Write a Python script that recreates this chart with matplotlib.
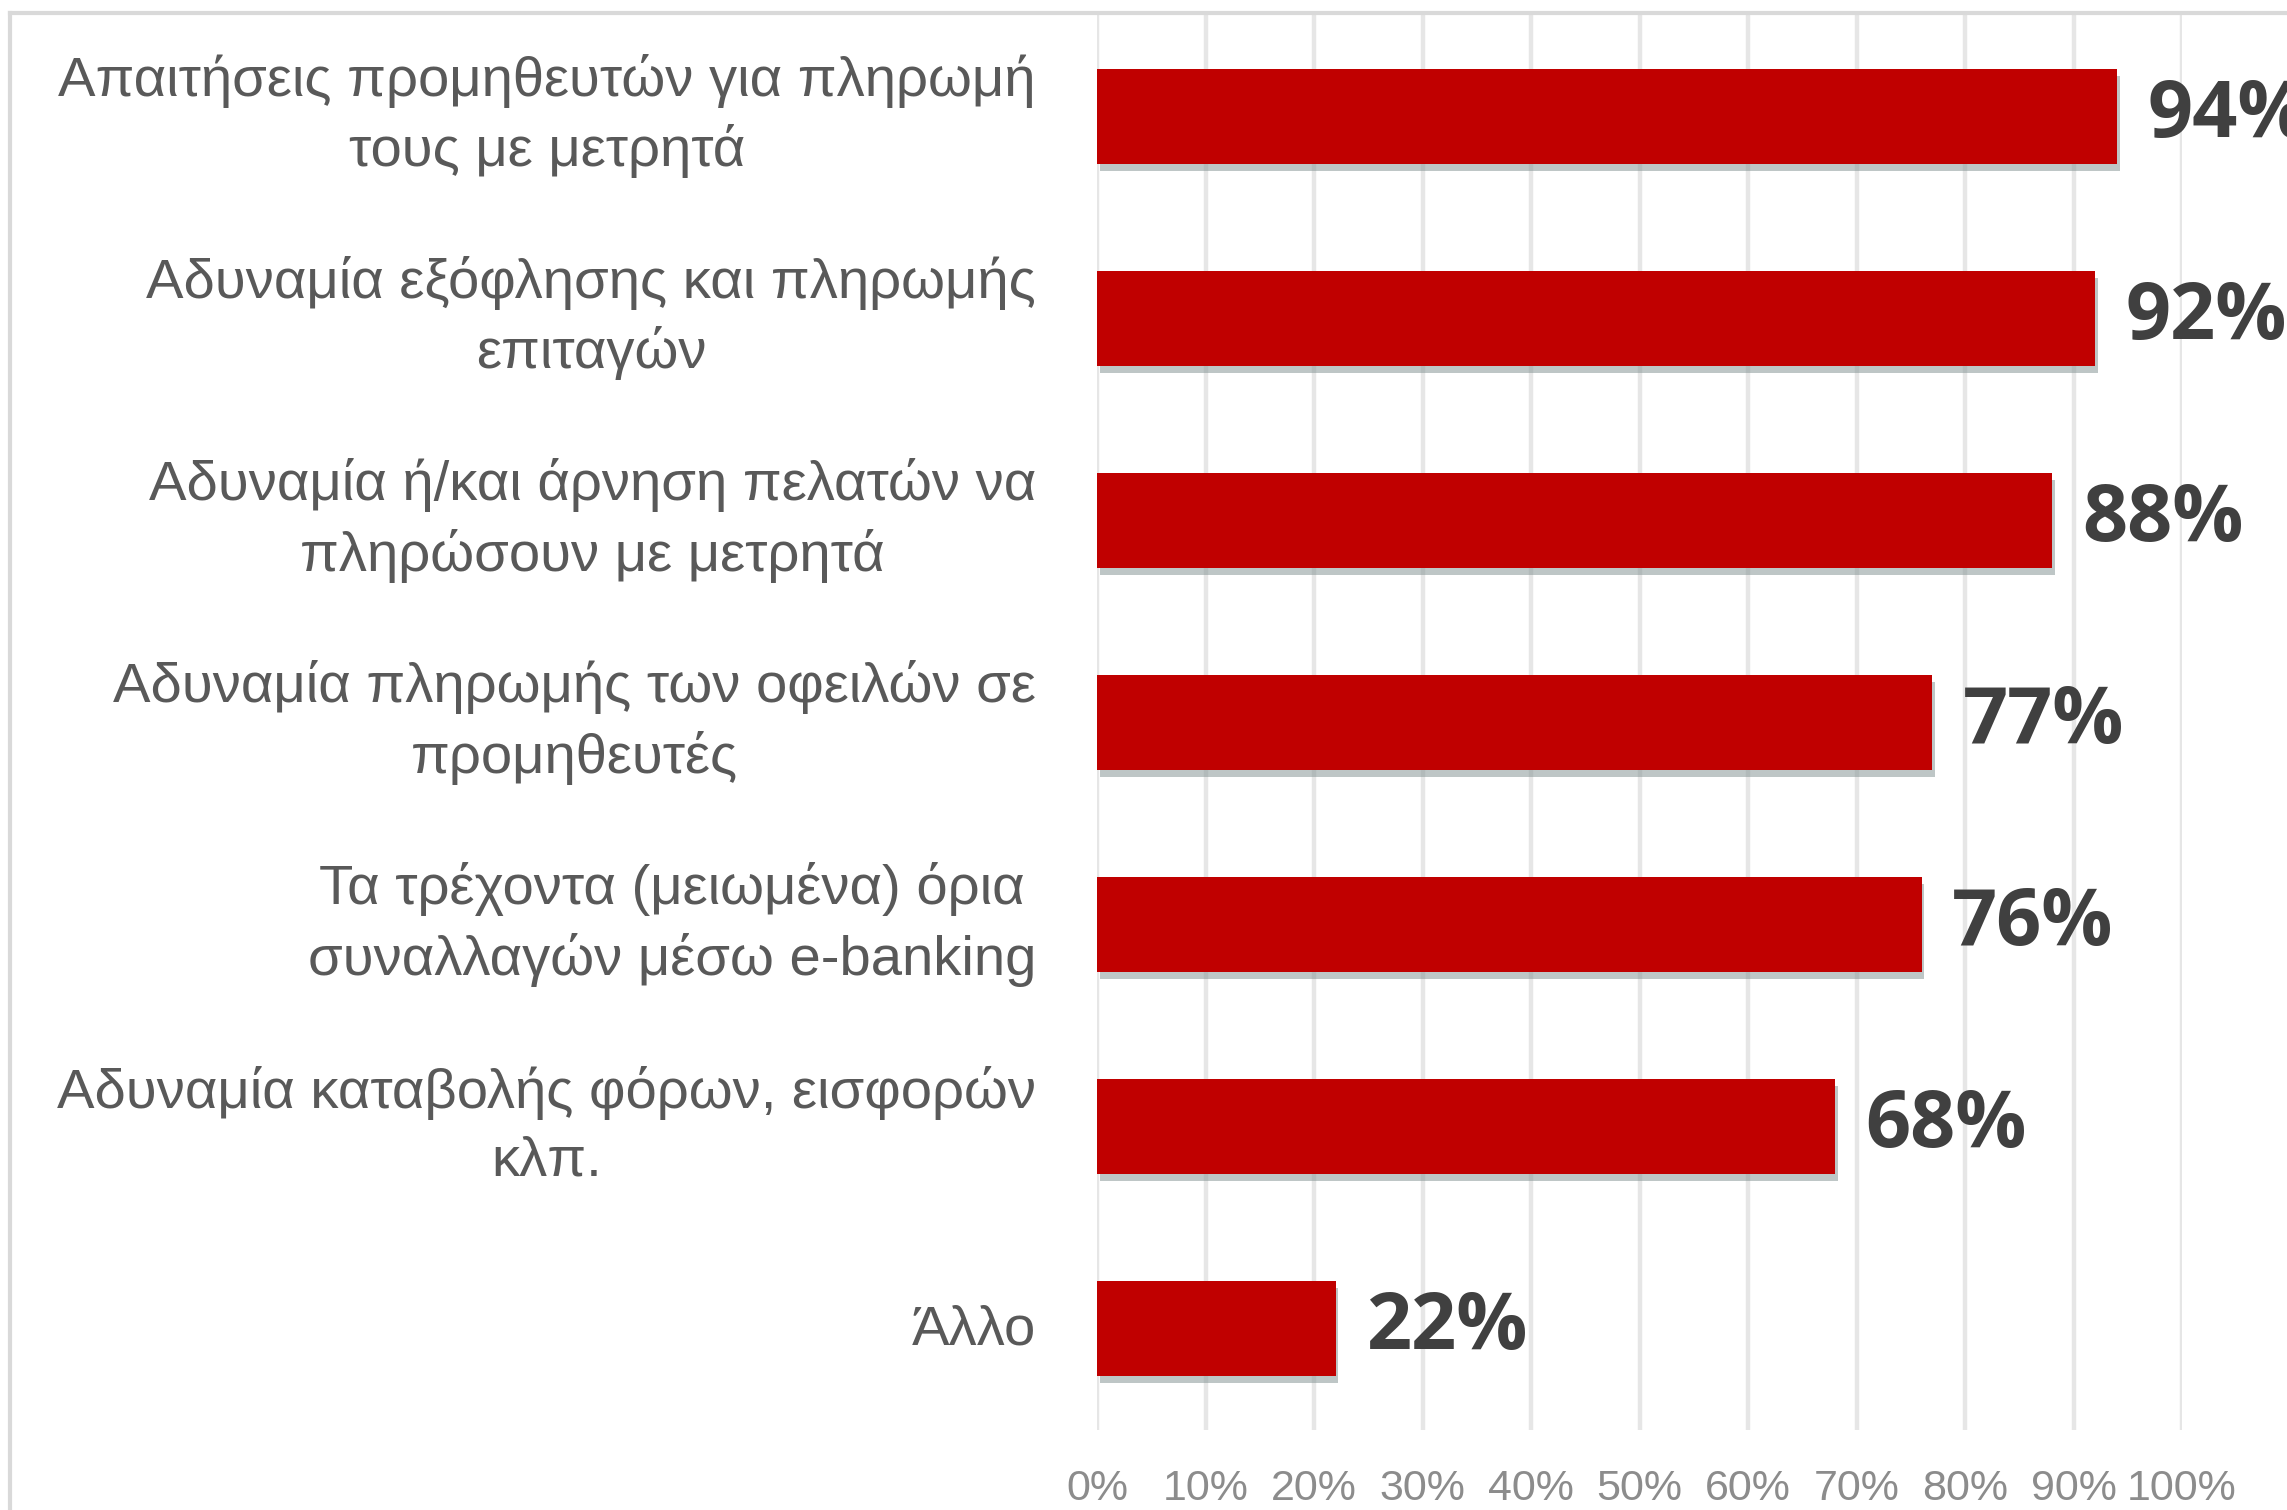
import matplotlib
matplotlib.use("Agg")
import matplotlib.pyplot as plt
import matplotlib.patheffects as pe
import matplotlib.transforms as mtransforms
from matplotlib.lines import Line2D
import numpy as np

categories = [
    "Απαιτήσεις προμηθευτών για πληρωμή\nτους με μετρητά",
    "Αδυναμία εξόφλησης και πληρωμής\nεπιταγών",
    "Αδυναμία ή/και άρνηση πελατών να\nπληρώσουν με μετρητά",
    "Αδυναμία πληρωμής των οφειλών σε\nπρομηθευτές",
    "Τα τρέχοντα (μειωμένα) όρια\nσυναλλαγών μέσω e-banking",
    "Αδυναμία καταβολής φόρων, εισφορών\nκλπ.",
    "Άλλο",
]
values = [0.94, 0.92, 0.88, 0.77, 0.76, 0.68, 0.22]
xticks = [0.0, 0.1, 0.2, 0.3, 0.4, 0.5, 0.6, 0.7, 0.8, 0.9, 1.0]
xticklabels = ["0%", "10%", "20%", "30%", "40%", "50%", "60%", "70%", "80%", "90%", "100%"]

W, H = 2287, 1510
fig = plt.figure(figsize=(W / 100, H / 100), dpi=100)
fig.patch.set_facecolor("white")

left, right = 1097 / W, 2182 / W
bottom, top = 1 - 1430 / H, 1 - 15 / H
ax = fig.add_axes([left, bottom, right - left, top - bottom])

y = np.arange(len(categories))
ax.barh(y, values, height=0.47, color="#C00000", zorder=3,
        path_effects=[pe.SimplePatchShadow(offset=(2, -5), shadow_rgbFace="#7F8F8F", alpha=0.5),
                      pe.Normal()])

ax.set_xlim(0, 1.0)
ax.set_ylim(len(categories) - 0.5, -0.5)

ax.set_xticks(xticks)
ax.set_xticklabels(xticklabels, family=["Liberation Sans", "DejaVu Sans"],
                   fontsize=31, color="#8C8C8C")
ax.tick_params(axis="x", length=0, pad=28)
ax.set_yticks(y)
ax.set_yticklabels([])
ax.tick_params(axis="y", length=0)

# category labels (right aligned, lines centred between themselves)
for yi, lab in zip(y, categories):
    dy = 0 if "\n" in lab else -2
    tr = ax.get_yaxis_transform() + mtransforms.ScaledTranslation(-61 / 100, dy / 100, fig.dpi_scale_trans)
    ax.text(0, yi, lab, transform=tr, ha="right", va="center", multialignment="center",
            family=["Liberation Sans", "DejaVu Sans"], fontsize=40.5, color="#595959",
            linespacing=1.39, clip_on=False)

ax.grid(axis="x", color="#E6E6E6", linewidth=3.2, zorder=0)
ax.set_axisbelow(True)
for s in ax.spines.values():
    s.set_visible(False)

for yi, v in zip(y, values):
    ax.text(v + 0.028, yi, f"{int(round(v * 100))}%", va="center", ha="left",
            family=["Open Sans", "DejaVu Sans"], fontweight="bold", fontsize=57,
            color="#404040", clip_on=False, zorder=4)

# chart area border (cropped at right/bottom)
bx, by = 10 / W, 1 - 13 / H
fig.add_artist(Line2D([bx, 1.0], [by, by], transform=fig.transFigure, color="#D9D9D9", linewidth=3))
fig.add_artist(Line2D([bx, bx], [0, by], transform=fig.transFigure, color="#D9D9D9", linewidth=3))

fig.savefig("out.png", dpi=100, facecolor="white")
